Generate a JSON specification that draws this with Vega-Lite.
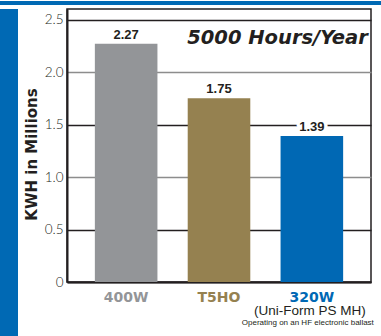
{
  "$schema": "https://vega.github.io/schema/vega-lite/v6.json",
  "background": "white",
  "padding": 0,
  "align": "none",
  "spacing": 2,
  "vconcat": [
    {
      "width": 381,
      "height": 4,
      "data": {"values": [{}]},
      "mark": {"type": "point", "opacity": 0},
      "encoding": {},
      "view": {"fill": "#0069b4", "stroke": null}
    },
    {
      "align": "none",
      "spacing": 5,
      "hconcat": [
        {
          "width": 18,
          "height": 340,
          "data": {"values": [{}]},
          "mark": {"type": "point", "opacity": 0},
          "encoding": {},
          "view": {"fill": "#0069b4", "stroke": null}
        },
        {
          "width": 304,
          "height": 273,
          "view": {"stroke": "#231f20", "strokeWidth": 1.5},
          "data": {
            "values": [
              {"lamp": "400W", "kwh": 2.27},
              {"lamp": "T5HO", "kwh": 1.75},
              {"lamp": "320W", "kwh": 1.39}
            ]
          },
          "layer": [
            {
              "mark": {"type": "bar"},
              "encoding": {
                "x": {
                  "field": "lamp",
                  "type": "nominal",
                  "sort": null,
                  "scale": {"paddingInner": 0.326, "paddingOuter": 0.3},
                  "axis": {
                    "title": null,
                    "labelAngle": 0,
                    "ticks": false,
                    "labelPadding": 8,
                    "labelFont": "DejaVu Sans",
                    "labelFontWeight": "bold",
                    "labelFontSize": 14,
                    "labelColor": {
                      "condition": [
                        {"test": "datum.value === '400W'", "value": "#939598"},
                        {"test": "datum.value === 'T5HO'", "value": "#958150"}
                      ],
                      "value": "#0068b4"
                    },
                    "domainColor": "#231f20",
                    "domainWidth": 2
                  }
                },
                "y": {
                  "field": "kwh",
                  "type": "quantitative",
                  "scale": {"domain": [0, 2.5]},
                  "axis": {
                    "title": "KWH in Millions",
                    "titleFont": "DejaVu Sans",
                    "titleFontWeight": "bold",
                    "titleFontSize": 15,
                    "titleColor": "#231f20",
                    "titlePadding": 5,
                    "titleY": 145,
                    "values": [0, 0.5, 1, 1.5, 2, 2.5],
                    "labelExpr": "datum.value == 0 ? '0' : format(datum.value, '.1f')",
                    "labelFont": "Lato",
                    "labelFontWeight": 300,
                    "labelFontSize": 13.5,
                    "labelColor": "#231f20",
                    "labelPadding": 4,
                    "ticks": false,
                    "domainColor": "#231f20",
                    "domainWidth": 2,
                    "grid": true,
                    "gridWidth": 1.4,
                    "gridOpacity": 1,
                    "gridColor": {
                      "condition": {"test": "datum.value == 1 || datum.value == 2", "value": "#8d8d8d"},
                      "value": "#231f20"
                    }
                  }
                },
                "color": {
                  "field": "lamp",
                  "type": "nominal",
                  "scale": {
                    "domain": ["400W", "T5HO", "320W"],
                    "range": ["#939598", "#958150", "#0068b4"]
                  },
                  "legend": null
                }
              }
            },
            {
              "mark": {
                "type": "text",
                "baseline": "alphabetic",
                "dy": -5,
                "font": "Liberation Sans",
                "fontWeight": "bold",
                "fontSize": 13,
                "fill": "white",
                "stroke": "white",
                "strokeWidth": 7,
                "strokeJoin": "round"
              },
              "encoding": {
                "x": {"field": "lamp", "type": "nominal", "sort": null},
                "y": {"field": "kwh", "type": "quantitative"},
                "text": {"field": "kwh", "type": "quantitative", "format": ".2f"}
              }
            },
            {
              "mark": {
                "type": "text",
                "baseline": "alphabetic",
                "dy": -5,
                "font": "Liberation Sans",
                "fontWeight": "bold",
                "fontSize": 13,
                "fill": "#231f20"
              },
              "encoding": {
                "x": {"field": "lamp", "type": "nominal", "sort": null},
                "y": {"field": "kwh", "type": "quantitative"},
                "text": {"field": "kwh", "type": "quantitative", "format": ".2f"}
              }
            },
            {
              "data": {"values": [{"caption": "5000 Hours/Year"}]},
              "mark": {
                "type": "text",
                "align": "right",
                "baseline": "alphabetic",
                "dx": 56,
                "dy": 24,
                "font": "DejaVu Sans",
                "fontWeight": "bold",
                "fontStyle": "italic",
                "fontSize": 19.5,
                "fill": "#231f20"
              },
              "encoding": {
                "x": {"datum": "320W", "type": "nominal"},
                "y": {"datum": 2.5, "type": "quantitative"},
                "text": {"field": "caption", "type": "nominal"}
              }
            },
            {
              "data": {"values": [{"note": "(Uni-Form PS MH)"}]},
              "mark": {
                "type": "text",
                "align": "center",
                "baseline": "alphabetic",
                "dx": -2,
                "dy": 33,
                "font": "Liberation Sans",
                "fontSize": 13.5,
                "fill": "#231f20"
              },
              "encoding": {
                "x": {"datum": "320W", "type": "nominal"},
                "y": {"datum": 0, "type": "quantitative"},
                "text": {"field": "note", "type": "nominal"}
              }
            },
            {
              "data": {"values": [{"note": "Operating on an HF electronic ballast"}]},
              "mark": {
                "type": "text",
                "align": "right",
                "baseline": "alphabetic",
                "dx": 62,
                "dy": 43,
                "font": "Liberation Sans",
                "fontSize": 8,
                "fill": "#231f20"
              },
              "encoding": {
                "x": {"datum": "320W", "type": "nominal"},
                "y": {"datum": 0, "type": "quantitative"},
                "text": {"field": "note", "type": "nominal"}
              }
            }
          ]
        }
      ]
    }
  ]
}
